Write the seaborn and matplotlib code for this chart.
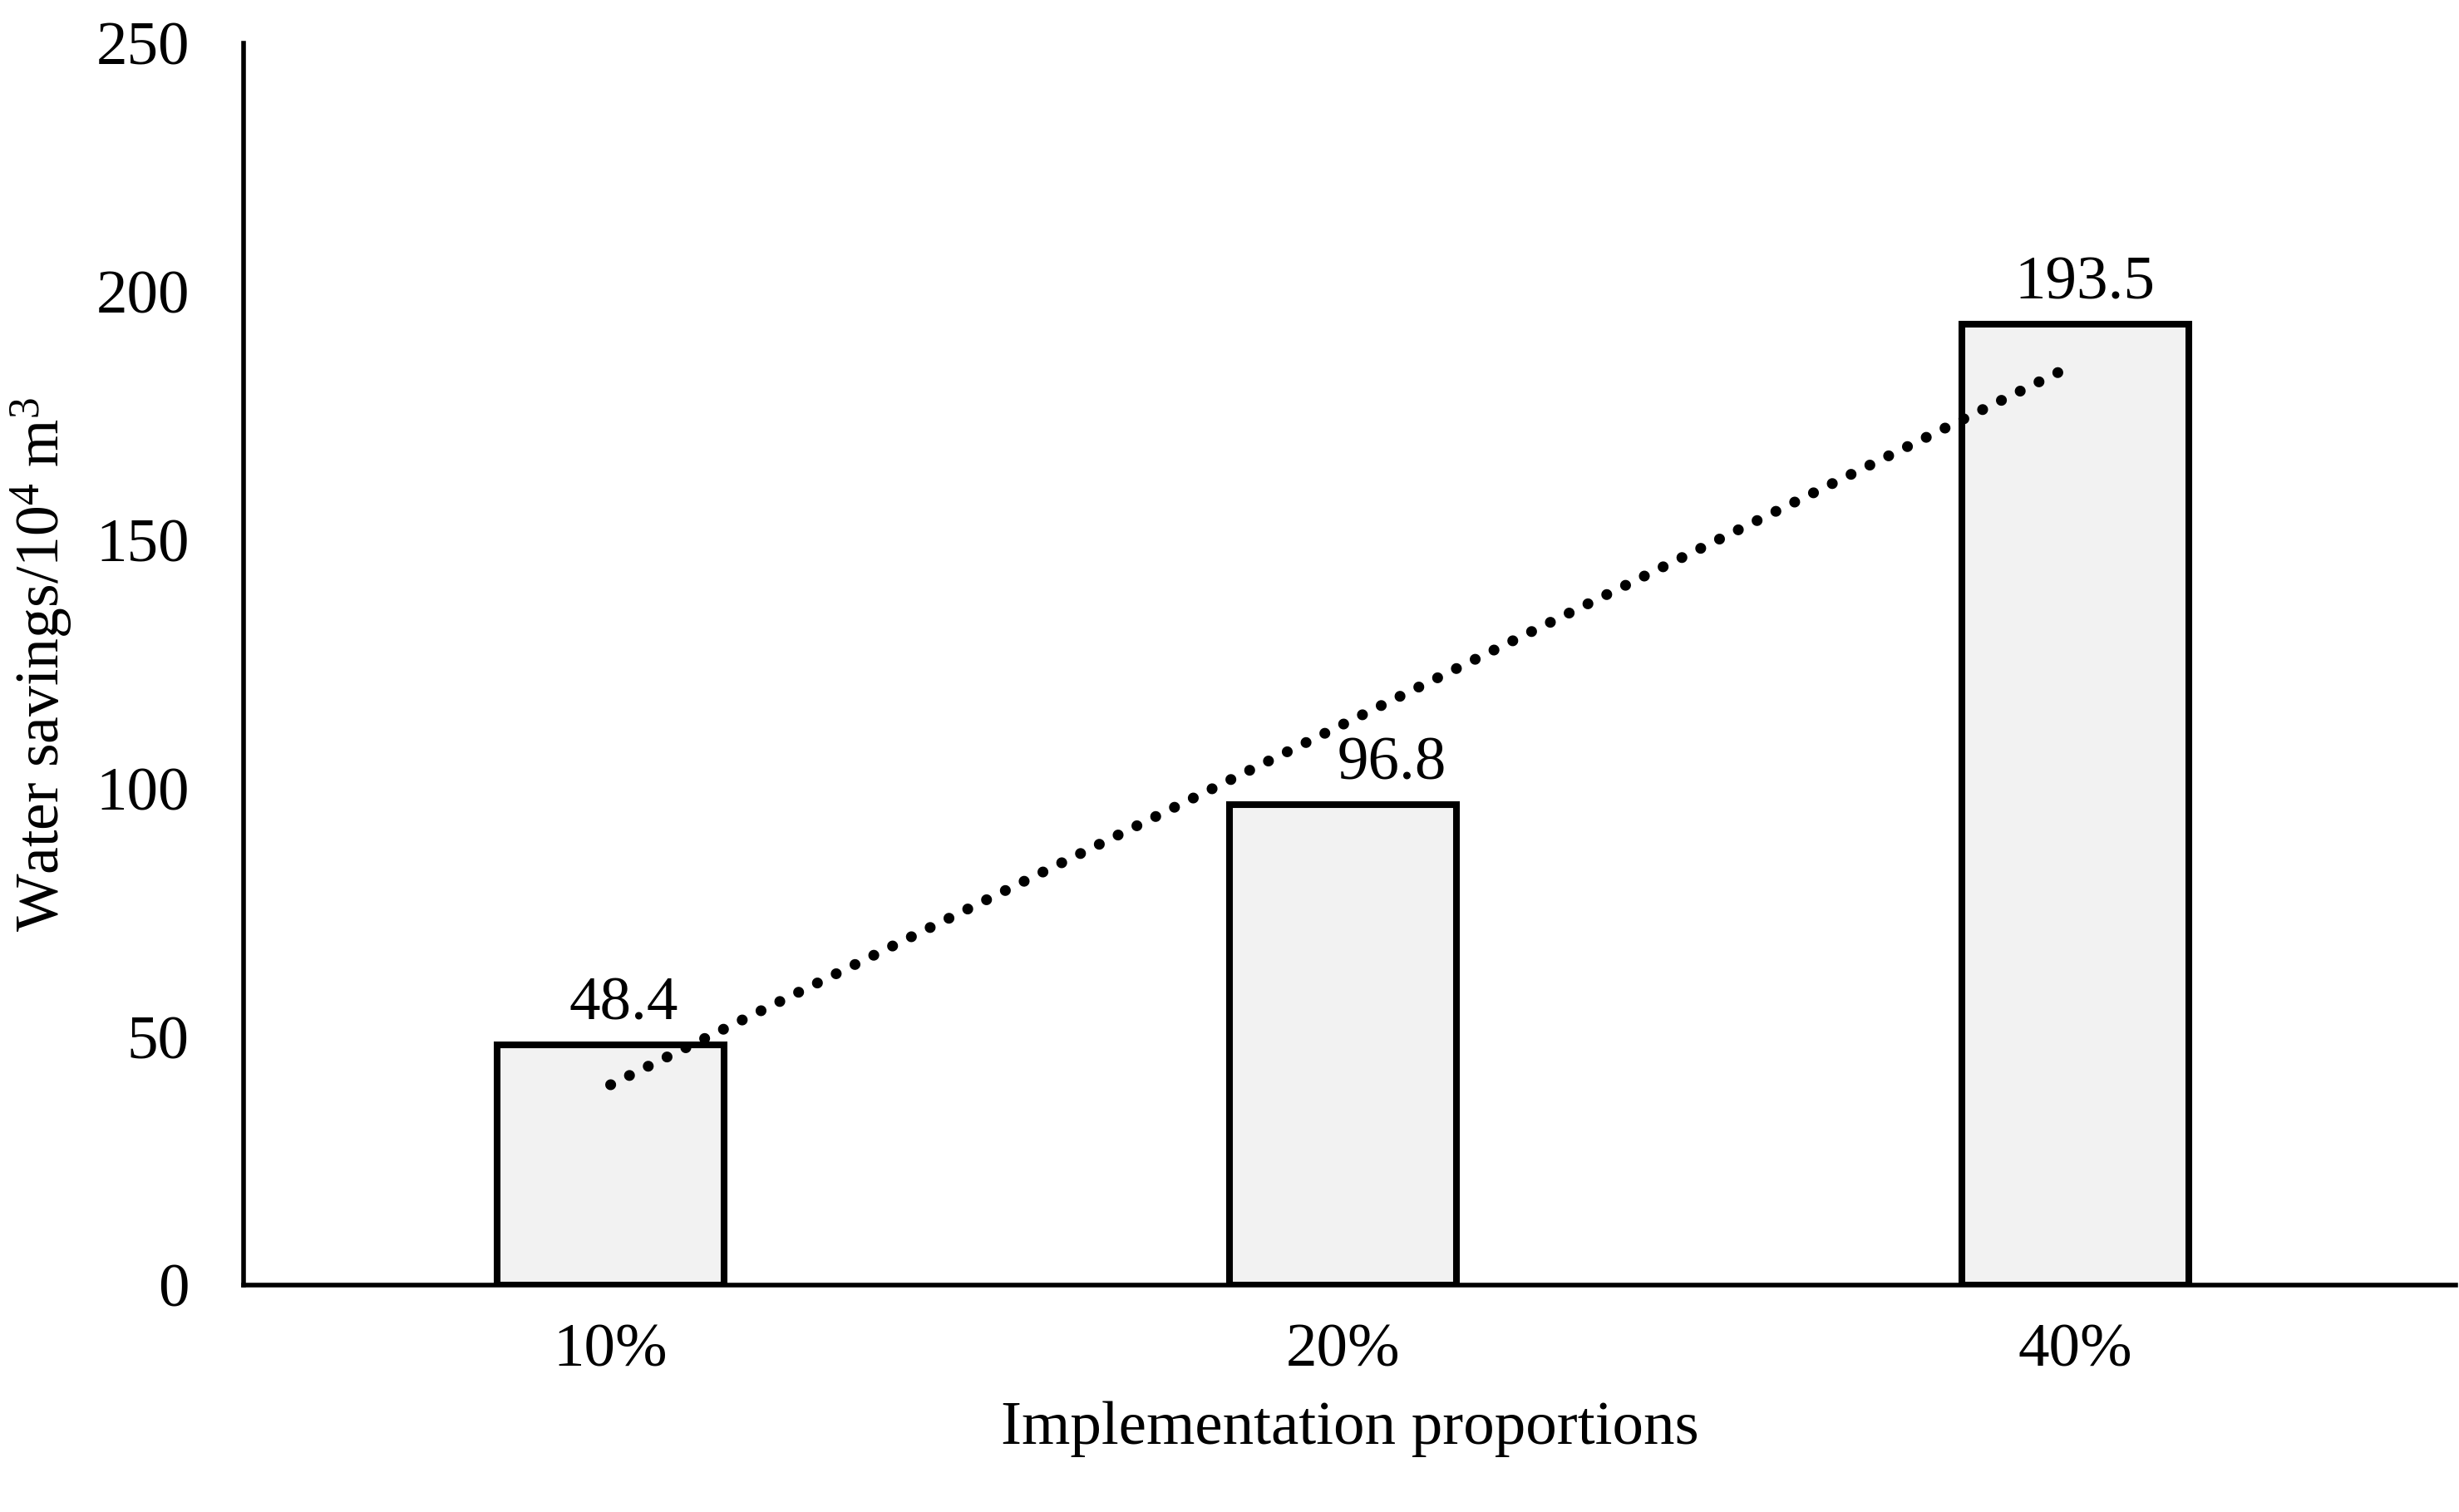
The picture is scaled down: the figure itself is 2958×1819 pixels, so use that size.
import numpy as np
import pandas as pd
import seaborn as sns
import matplotlib
import matplotlib.pyplot as plt

matplotlib.use('Agg')

# data
proportions = ['10%', '20%', '40%']
savings = [48.4, 96.8, 193.5]
y_ticks = [0, 50, 100, 150, 200, 250]
# labels nudged sideways (points) like in the original, 96.8 moved off the trend line
label_shift = [11, 42, 8]

df = pd.DataFrame({'Implementation proportions': proportions, 'Water savings': savings})

sns.set_theme(style="white")
plt.rcParams['font.family'] = ['Liberation Serif', 'DejaVu Serif']
plt.rcParams['mathtext.fontset'] = 'custom'
plt.rcParams['mathtext.rm'] = 'Liberation Serif'
plt.rcParams['mathtext.it'] = 'Liberation Serif:italic'
plt.rcParams['mathtext.bf'] = 'Liberation Serif:bold'
plt.rcParams['text.color'] = 'black'
plt.rcParams['axes.labelcolor'] = 'black'

fig = plt.figure(figsize=(29.58, 18.19), dpi=100)
ax = fig.add_axes([0.0991, 0.150, 0.8995, 0.8214])

sns.barplot(x='Implementation proportions', y='Water savings', data=df, ax=ax,
            color='#F2F2F2', edgecolor='black', linewidth=5.8, width=0.31,
            saturation=1)

# linear trend line (dotted)
xs = np.arange(len(savings))
k, b = np.polyfit(xs, savings, 1)
ax.plot(xs, k * xs + b, color='black', lw=9.4, linestyle=(0, (0.01, 1.92)),
        dash_capstyle='round', zorder=5)

# value labels
for i, v in enumerate(savings):
    ax.annotate(f'{v:.1f}', xy=(i, v), xytext=(label_shift[i], 10),
                textcoords='offset points', ha='center', va='bottom',
                fontsize=54, color='black')

ax.set_xlim(-0.501, 2.519)
ax.set_ylim(0, 250)
ax.set_yticks(y_ticks)
ax.tick_params(axis='both', length=0, labelsize=54, colors='black')
ax.tick_params(axis='y', pad=47)
ax.tick_params(axis='x', pad=33)

ax.set_xlabel('Implementation proportions', fontsize=54, labelpad=19)
ax.set_ylabel('Water savings/10$^{4}$ m$^{3}$', fontsize=53, labelpad=19)

sns.despine(ax=ax)
for side in ['left', 'bottom']:
    ax.spines[side].set_color('black')
    ax.spines[side].set_linewidth(4)

plt.savefig('out.png', dpi=100)
